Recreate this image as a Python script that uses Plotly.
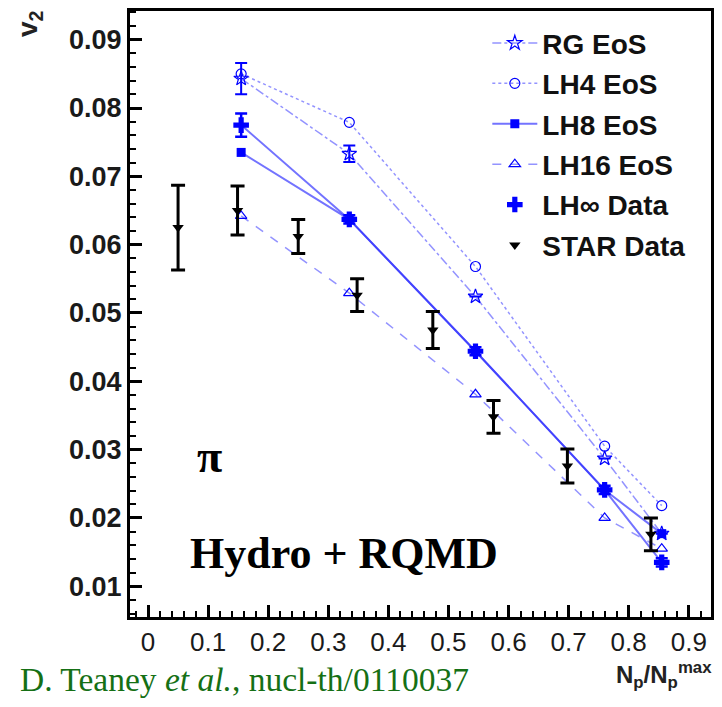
import plotly.graph_objects as go

# ---- data ----
x_model = [0.155, 0.335, 0.545, 0.76, 0.855]
rg_y = [0.0843, 0.0733, 0.0524, 0.0287, 0.0177]
rg_err = [0.0023, 0.0012, 0.0, 0.0, 0.0]
lh4_y = [0.0850, 0.0779, 0.0568, 0.0305, 0.0218]
lh8_y = [0.0735, 0.0637, 0.0444, 0.0241, 0.0177]
lh16_y = [0.0642, 0.0529, 0.0381, 0.0200, 0.0155]
lhinf_y = [0.0775, 0.0637, 0.0444, 0.0241, 0.0135]
lhinf_err = [0.0017, 0.0006, 0.0006, 0.0006, 0.0006]

star_x = [0.05, 0.149, 0.25, 0.348, 0.474, 0.575, 0.698, 0.837]
star_y = [0.0625, 0.0650, 0.0612, 0.0526, 0.0475, 0.0348, 0.0276, 0.0176]
star_err = [0.0062, 0.0036, 0.0025, 0.0024, 0.0027, 0.0024, 0.0025, 0.0024]

x_ticks = [0, 0.1, 0.2, 0.3, 0.4, 0.5, 0.6, 0.7, 0.8, 0.9]
y_ticks = [0.01, 0.02, 0.03, 0.04, 0.05, 0.06, 0.07, 0.08, 0.09]

BLUE = "rgb(0,0,255)"
LINE = "rgba(40,40,255,0.5)"

fig = go.Figure()

fig.add_trace(go.Scatter(
    x=x_model, y=rg_y, name="RG EoS", legendgroup="a",
    mode="lines+markers",
    line=dict(color=LINE, width=1.5, dash="dashdot"),
    marker=dict(symbol="star-open", size=11, color=BLUE, line=dict(width=1.2)),
    error_y=dict(type="data", array=rg_err, color=BLUE, thickness=2, width=6),
))
fig.add_trace(go.Scatter(
    x=x_model, y=lh4_y, name="LH4 EoS", legendgroup="b",
    mode="lines+markers",
    line=dict(color=LINE, width=1.5, dash="dot"),
    marker=dict(symbol="circle-open", size=10, color=BLUE, line=dict(width=1.2)),
))
fig.add_trace(go.Scatter(
    x=x_model, y=lh8_y, name="LH8 EoS", legendgroup="c",
    mode="lines+markers",
    line=dict(color="rgba(40,40,255,0.65)", width=2),
    marker=dict(symbol="square", size=9, color=BLUE),
))
fig.add_trace(go.Scatter(
    x=x_model, y=lh16_y, name="LH16 EoS", legendgroup="d",
    mode="lines+markers",
    line=dict(color=LINE, width=1.5, dash="dash"),
    marker=dict(symbol="triangle-up-open", size=10, color=BLUE, line=dict(width=1.2)),
))
# line connecting LH-infinity points (no legend entry)
fig.add_trace(go.Scatter(
    x=x_model, y=lhinf_y, showlegend=False, mode="lines",
    line=dict(color="rgba(40,40,255,0.65)", width=2), hoverinfo="skip",
))
fig.add_trace(go.Scatter(
    x=x_model, y=lhinf_y, name="LH\u221e Data", legendgroup="e",
    mode="markers",
    marker=dict(symbol="cross", size=13, color=BLUE),
    error_y=dict(type="data", array=lhinf_err, color=BLUE, thickness=2.5, width=6),
))
fig.add_trace(go.Scatter(
    x=star_x, y=star_y, name="STAR Data", legendgroup="f",
    mode="markers",
    marker=dict(symbol="triangle-down", size=10, color="black"),
    error_y=dict(type="data", array=star_err, color="black", thickness=3, width=7),
))

SANS = "Liberation Sans, Arial, sans-serif"
SERIF = "Liberation Serif, serif"

fig.update_layout(
    width=722, height=707,
    margin=dict(l=130, r=9, t=8, b=90),
    paper_bgcolor="white", plot_bgcolor="white",
    showlegend=True,
    legend=dict(
        x=0.615, y=0.988, xanchor="left", yanchor="top",
        font=dict(family=SANS, size=28, color="#111", weight="bold"),
        bgcolor="rgba(0,0,0,0)", itemwidth=45,
        traceorder="grouped", tracegroupgap=1,
    ),
    xaxis=dict(
        range=[-0.03, 0.937], showgrid=False, zeroline=False,
        showline=True, linecolor="black", linewidth=3, mirror=True,
        ticks="inside", ticklen=12, tickwidth=2.5, tickcolor="black",
        tickvals=x_ticks, ticktext=[("0" if v == 0 else f"{v:g}") for v in x_ticks],
        tickfont=dict(family=SANS, size=26, color="#1a1a1a"),
        minor=dict(dtick=0.02, tick0=0, ticks="inside", ticklen=6, tickwidth=2, tickcolor="black"),
    ),
    yaxis=dict(
        range=[0.0055, 0.0942], showgrid=False, zeroline=False,
        showline=True, linecolor="black", linewidth=3, mirror=True,
        ticks="inside", ticklen=12, tickwidth=2.5, tickcolor="black",
        tickvals=y_ticks, ticktext=[f"{v:.2f}" for v in y_ticks],
        tickfont=dict(family=SANS, size=27, color="#1a1a1a", weight="bold"),
        minor=dict(dtick=0.002, tick0=0, ticks="inside", ticklen=6, tickwidth=2, tickcolor="black"),
    ),
)

fig.add_annotation(
    text="<b>v<sub>2</sub></b>", xref="paper", yref="paper", x=-0.173, y=1.005,
    xanchor="center", yanchor="top", textangle=-90, showarrow=False,
    font=dict(family=SANS, size=28, color="#222"),
)
fig.add_annotation(
    text="<b>N<sub>p</sub>/N<sub>p</sub><sup>max</sup></b>", xref="paper", yref="paper",
    x=1.005, y=-0.065, xanchor="right", yanchor="top", showarrow=False,
    font=dict(family=SANS, size=24, color="#222"),
)
fig.add_annotation(
    text="<b>\u03c0</b>", xref="paper", yref="paper", x=0.137, y=0.265,
    xanchor="center", yanchor="middle", showarrow=False,
    font=dict(family=SERIF, size=46, color="black"),
)
fig.add_annotation(
    text="<b>Hydro + RQMD</b>", xref="paper", yref="paper", x=0.1, y=0.105,
    xanchor="left", yanchor="middle", showarrow=False,
    font=dict(family=SERIF, size=44, color="black"),
)
fig.add_annotation(
    text="D. Teaney <i>et al.</i>, nucl-th/0110037", xref="paper", yref="paper",
    x=-0.192, y=-0.103, xanchor="left", yanchor="middle", showarrow=False,
    font=dict(family=SERIF, size=33.5, color="#157015"),
)

fig.write_html("out.html")
